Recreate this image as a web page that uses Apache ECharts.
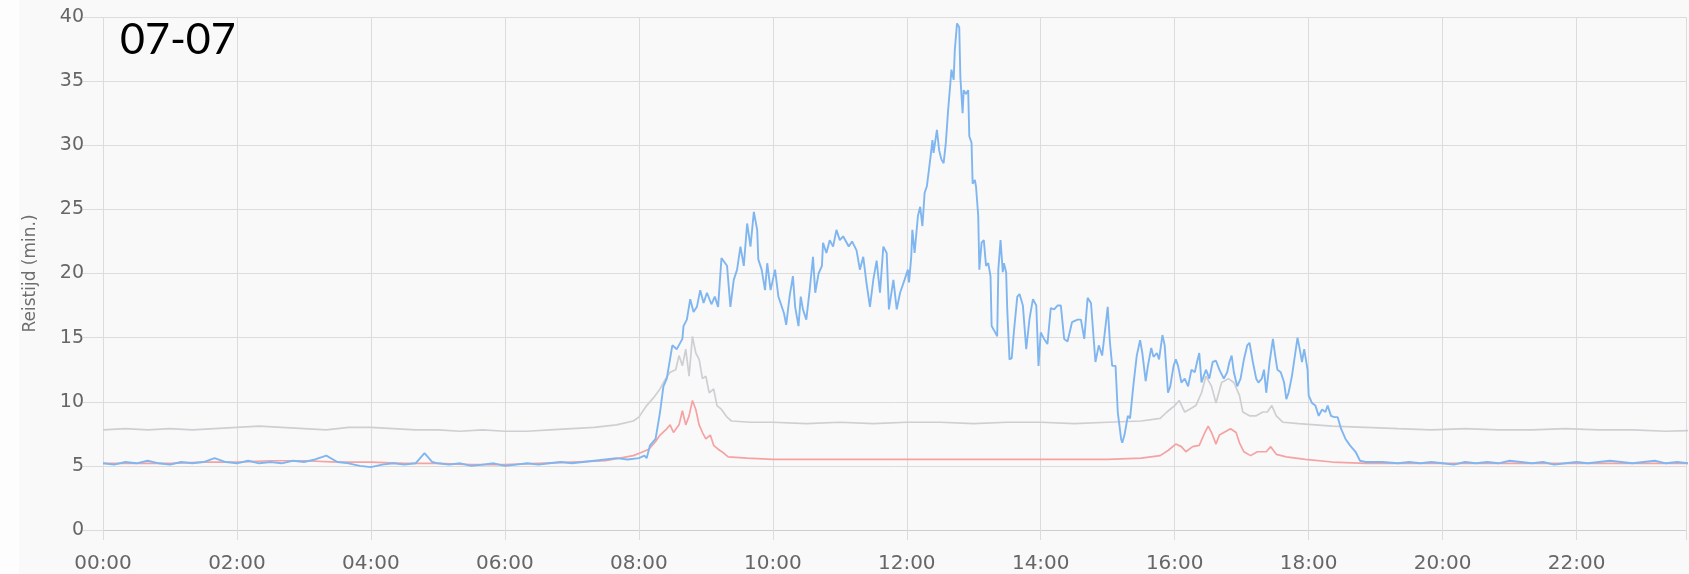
<!DOCTYPE html>
<html>
<head>
<meta charset="utf-8">
<script src="https://cdn.jsdelivr.net/npm/echarts@6/dist/echarts.min.js"></script>
<style>html,body{margin:0;padding:0;background:#f9f9f9;}#c{width:1689px;height:574px;}</style>
</head>
<body>
<div id="c"></div>
<script>
// ---- data (times HH:MM, travel time in minutes) ----
var dateLabel = '07-07';
var yAxisName = 'Reistijd (min.)';
var yTicks = [0, 5, 10, 15, 20, 25, 30, 35, 40];
var xTickLabels = ['00:00','02:00','04:00','06:00','08:00','10:00','12:00','14:00','16:00','18:00','20:00','22:00'];
var visibleEnd = '23:38'; // the reference is cropped just before midnight

var blueTimes = ['00:00','00:10','00:20','00:30','00:40','00:50','01:00','01:10','01:20','01:30','01:40','01:50','02:00','02:10','02:20','02:30','02:40','02:50','03:00','03:10','03:20','03:30','03:40','03:50','04:00','04:10','04:20','04:30','04:40','04:48','04:55','05:00','05:10','05:20','05:30','05:40','05:50','06:00','06:10','06:20','06:30','06:40','06:50','07:00','07:10','07:20','07:30','07:40','07:50','08:00','08:05','08:07','08:10','08:15','08:19','08:22','08:25','08:30','08:34','08:39','08:40','08:43','08:46','08:49','08:52','08:55','08:58','09:01','09:05','09:08','09:11','09:14','09:19','09:22','09:25','09:28','09:31','09:34','09:37','09:40','09:43','09:46','09:47','09:50','09:53','09:55','09:58','10:02','10:05','10:10','10:12','10:15','10:18','10:20','10:23','10:25','10:27','10:30','10:33','10:36','10:38','10:41','10:44','10:45','10:48','10:51','10:54','10:57','11:00','11:03','11:08','11:11','11:15','11:18','11:21','11:24','11:27','11:30','11:33','11:36','11:39','11:42','11:44','11:48','11:51','11:54','11:58','12:01','12:02','12:04','12:05','12:07','12:10','12:12','12:14','12:16','12:18','12:21','12:23','12:24','12:27','12:29','12:31','12:33','12:35','12:37','12:39','12:40','12:42','12:43','12:45','12:47','12:48','12:50','12:51','12:53','12:55','12:56','12:58','12:59','13:01','13:02','13:04','13:05','13:07','13:09','13:11','13:13','13:15','13:16','13:18','13:21','13:22','13:24','13:26','13:27','13:29','13:30','13:32','13:34','13:36','13:39','13:41','13:44','13:47','13:50','13:53','13:56','13:58','14:00','14:03','14:06','14:09','14:12','14:15','14:18','14:21','14:24','14:28','14:33','14:36','14:39','14:42','14:45','14:49','14:52','14:55','15:00','15:02','15:04','15:07','15:09','15:12','15:13','15:15','15:18','15:20','15:23','15:26','15:29','15:31','15:34','15:36','15:39','15:41','15:44','15:46','15:49','15:51','15:54','15:56','15:59','16:01','16:03','16:06','16:09','16:12','16:15','16:18','16:20','16:22','16:24','16:26','16:28','16:31','16:34','16:37','16:40','16:44','16:47','16:49','16:51','16:53','16:56','16:59','17:02','17:05','17:07','17:10','17:13','17:15','17:18','17:20','17:22','17:25','17:28','17:30','17:32','17:35','17:38','17:40','17:42','17:45','17:48','17:50','17:52','17:54','17:56','17:59','18:00','18:03','18:06','18:09','18:12','18:15','18:17','18:20','18:23','18:26','18:29','18:33','18:37','18:42','18:46','18:51','19:06','19:20','19:30','19:40','19:50','20:00','20:10','20:20','20:30','20:40','20:50','21:00','21:10','21:20','21:30','21:40','21:50','22:00','22:10','22:20','22:30','22:40','22:50','23:00','23:10','23:20','23:30','23:40','23:59'];
var blueValues = [5.2,5.1,5.3,5.2,5.4,5.2,5.1,5.3,5.2,5.3,5.6,5.3,5.2,5.4,5.2,5.3,5.2,5.4,5.3,5.5,5.8,5.3,5.2,5.0,4.9,5.1,5.2,5.1,5.2,6.0,5.3,5.2,5.1,5.2,5.0,5.1,5.2,5.0,5.1,5.2,5.1,5.2,5.3,5.2,5.3,5.4,5.5,5.6,5.5,5.6,5.8,5.6,6.6,7.1,9.2,11.2,11.8,14.4,14.1,14.9,15.9,16.4,18.0,17.0,17.4,18.7,17.7,18.5,17.6,18.2,17.4,21.2,20.6,17.4,19.5,20.3,22.1,20.6,23.9,22.1,24.8,23.4,21.1,20.3,18.7,20.8,18.7,20.3,18.2,16.9,16.0,18.2,19.8,17.4,15.9,18.2,17.2,16.4,18.7,21.3,18.5,20.0,20.6,22.4,21.6,22.6,22.1,23.4,22.6,22.9,22.1,22.5,21.8,20.3,21.3,19.2,17.4,19.5,21.0,18.5,22.1,21.6,17.2,19.5,17.2,18.5,19.5,20.3,19.3,21.3,23.4,21.6,24.5,25.2,23.7,26.3,26.8,28.9,30.4,29.4,31.2,29.6,28.9,28.6,30.2,32.7,34.8,35.9,35.1,37.4,39.5,39.2,35.3,32.5,34.3,34.0,34.3,30.7,30.2,27.0,27.3,26.8,24.5,20.3,22.4,22.6,20.6,20.8,19.8,15.9,15.6,15.1,20.3,22.6,20.1,20.8,20.1,17.2,13.3,13.4,15.5,18.2,18.4,17.5,14.1,16.5,18.0,17.5,12.8,15.4,14.9,14.5,17.3,17.2,17.5,17.5,14.9,14.7,16.2,16.4,16.4,14.9,18.1,17.7,13.1,14.4,13.6,17.4,14.6,12.8,12.8,9.2,7.1,6.8,7.4,8.9,8.7,11.3,13.6,14.8,13.8,11.6,12.8,14.2,13.5,13.8,13.3,15.2,14.4,10.7,11.2,12.8,13.3,12.8,11.5,11.8,11.2,12.5,12.3,13.1,13.8,11.5,12.0,12.5,11.8,13.1,13.2,12.5,11.8,12.3,13.1,13.6,12.3,11.2,11.8,13.3,14.4,14.6,13.1,11.8,11.5,11.8,12.5,10.7,13.1,14.9,13.6,12.5,12.3,11.5,10.2,10.7,12.0,13.8,15.0,14.1,13.1,14.1,12.5,10.5,9.9,9.7,8.9,9.4,9.2,9.7,8.9,8.8,8.8,7.9,7.1,6.6,6.1,5.4,5.3,5.3,5.2,5.3,5.2,5.3,5.2,5.1,5.3,5.2,5.3,5.2,5.4,5.3,5.2,5.3,5.1,5.2,5.3,5.2,5.3,5.4,5.3,5.2,5.3,5.4,5.2,5.3,5.2,5.2];

var grayTimes = ['00:00','00:20','00:40','01:00','01:20','01:40','02:00','02:20','02:40','03:00','03:20','03:40','04:00','04:20','04:40','05:00','05:20','05:40','06:00','06:20','06:40','07:00','07:20','07:40','07:55','08:00','08:07','08:13','08:19','08:24','08:28','08:33','08:36','08:39','08:42','08:45','08:48','08:51','08:54','08:57','09:00','09:03','09:07','09:10','09:14','09:19','09:23','09:40','10:00','10:30','11:00','11:30','12:00','12:30','13:00','13:30','14:00','14:30','15:00','15:30','15:47','15:53','16:00','16:04','16:09','16:13','16:19','16:24','16:28','16:33','16:37','16:42','16:48','16:53','16:58','17:01','17:07','17:13','17:19','17:23','17:27','17:31','17:37','17:51','18:21','18:51','19:20','19:50','20:20','20:50','21:20','21:50','22:20','22:50','23:20','23:59'];
var grayValues = [7.8,7.9,7.8,7.9,7.8,7.9,8.0,8.1,8.0,7.9,7.8,8.0,8.0,7.9,7.8,7.8,7.7,7.8,7.7,7.7,7.8,7.9,8.0,8.2,8.5,8.8,9.7,10.3,11.0,11.8,12.3,12.5,13.6,12.8,14.1,12.0,15.1,13.8,13.3,11.8,12.0,10.7,11.0,9.7,9.4,8.8,8.5,8.4,8.4,8.3,8.4,8.3,8.4,8.4,8.3,8.4,8.4,8.3,8.4,8.5,8.7,9.2,9.7,10.1,9.2,9.4,9.7,10.7,12.0,11.2,9.9,11.5,11.8,11.5,10.5,9.2,8.9,8.9,9.2,9.2,9.7,8.9,8.4,8.3,8.1,8.0,7.9,7.8,7.9,7.8,7.8,7.9,7.8,7.8,7.7,7.8];

var redTimes = ['00:00','00:30','01:00','01:30','02:00','02:30','03:00','03:30','04:00','04:30','05:00','05:30','06:00','06:30','07:00','07:30','07:55','08:01','08:09','08:15','08:19','08:24','08:28','08:31','08:36','08:39','08:42','08:45','08:48','08:51','08:54','08:57','09:00','09:04','09:07','09:11','09:16','09:20','09:37','10:00','11:00','12:00','13:00','14:00','15:00','15:30','15:47','15:54','16:01','16:06','16:10','16:16','16:22','16:27','16:30','16:33','16:37','16:40','16:46','16:50','16:55','16:58','17:02','17:08','17:14','17:22','17:26','17:31','17:40','17:57','18:21','18:51','19:30','20:30','21:30','22:30','23:59'];
var redValues = [5.2,5.2,5.2,5.3,5.3,5.4,5.4,5.3,5.3,5.2,5.2,5.1,5.1,5.2,5.3,5.4,5.8,6.0,6.3,6.9,7.4,7.8,8.2,7.6,8.2,9.3,8.2,8.9,10.1,9.4,8.2,7.6,7.1,7.4,6.6,6.3,6.0,5.7,5.6,5.5,5.5,5.5,5.5,5.5,5.5,5.6,5.8,6.2,6.7,6.5,6.1,6.5,6.6,7.6,8.1,7.6,6.7,7.4,7.7,7.9,7.6,6.8,6.1,5.8,6.1,6.1,6.5,5.9,5.7,5.5,5.3,5.2,5.2,5.2,5.2,5.2,5.2];

// ---- build ----
function toMin(s){ var p = s.split(':'); return (+p[0]) * 60 + (+p[1]); }
function pairs(ts, vs){ return ts.map(function(t, i){ return [toMin(t), vs[i]]; }); }

var chart = echarts.init(document.getElementById('c'), null, {renderer: 'canvas'});
var gridColor = '#dcdcdc';
var labelFont = 'DejaVu Sans';
chart.setOption({
  animation: false,
  backgroundColor: '#f9f9f9',
  graphic: [
    {type: 'rect', left: 0, top: 0, shape: {width: 19, height: 574}, style: {fill: '#fdfdfd'}, z: -10},
    {type: 'text', left: 120, top: 19, style: {text: dateLabel, fill: '#000', font: '43px Lato'}}
  ],
  grid: {left: 103, right: 0, top: 17, bottom: 44, containLabel: false},
  xAxis: {
    type: 'value', min: 0, max: toMin(visibleEnd), interval: 120,
    axisLine: {show: true, lineStyle: {color: '#cdcdd4', width: 1}},
    axisTick: {show: true, length: 10, lineStyle: {color: gridColor}},
    axisLabel: {
      margin: 24, color: '#666', fontFamily: labelFont, fontSize: 20,
      formatter: function(v){ if (v % 120 !== 0) return ''; var i = v / 120; return i < xTickLabels.length ? xTickLabels[i] : ''; }
    },
    splitLine: {show: true, lineStyle: {color: gridColor, width: 1}}
  },
  yAxis: {
    type: 'value', min: yTicks[0], max: yTicks[yTicks.length - 1], interval: 5,
    name: yAxisName, nameLocation: 'middle', nameGap: 64, nameRotate: 90,
    nameTextStyle: {color: '#6e6e6e', fontFamily: labelFont, fontSize: 17},
    axisLine: {show: false},
    axisTick: {show: true, length: 20, lineStyle: {color: gridColor}},
    axisLabel: {margin: 19, color: '#666', fontFamily: labelFont, fontSize: 19},
    splitLine: {show: true, lineStyle: {color: gridColor, width: 1}}
  },
  series: [
    {type: 'line', data: pairs(grayTimes, grayValues), showSymbol: false, symbol: 'none', clip: true, lineStyle: {color: '#cfcfd3', width: 1.7}, z: 2},
    {type: 'line', data: pairs(redTimes, redValues), showSymbol: false, symbol: 'none', clip: true, lineStyle: {color: '#f5a2a2', width: 1.7}, z: 3},
    {type: 'line', data: pairs(blueTimes, blueValues), showSymbol: false, symbol: 'none', clip: true, lineStyle: {color: '#80b6f0', width: 1.9}, z: 4}
  ]
});
</script>
</body>
</html>
